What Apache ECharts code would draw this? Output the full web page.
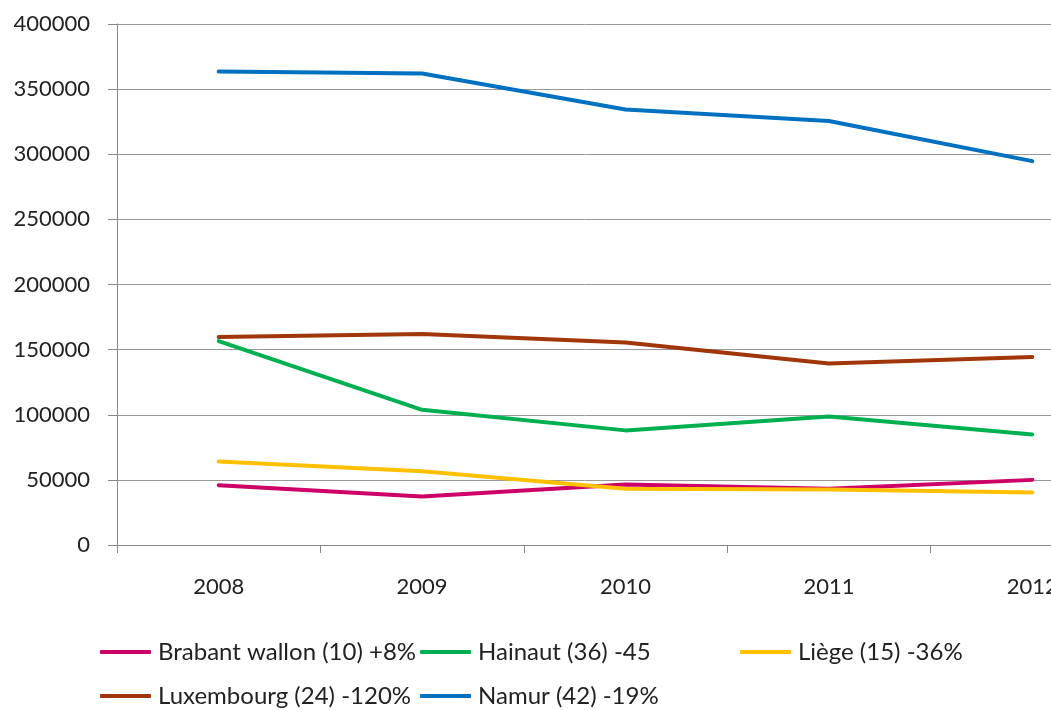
<!DOCTYPE html>
<html>
<head>
<meta charset="utf-8">
<script src="https://cdn.jsdelivr.net/npm/echarts@6/dist/echarts.min.js"></script>
<style>
html, body { margin: 0; padding: 0; background: #fff; }
#main { width: 1051px; height: 710px; }
</style>
</head>
<body>
<div id="main"></div>
<script>
// data
var years = ['2008', '2009', '2010', '2011', '2012'];
var brabant = [45900, 37200, 46400, 43100, 50000];
var hainaut = [156600, 103800, 88000, 98700, 84900];
var liege = [64100, 56700, 43100, 42600, 40300];
var luxembourg = [159700, 162000, 155500, 139300, 144300];
var namur = [363500, 362000, 334300, 325500, 294700];

var names = ['Brabant wallon (10) +8%', 'Hainaut (36) -45', 'Liège (15) -36%',
    'Luxembourg (24) -120%', 'Namur (42) -19%'];
var colors = ['#CC0066', '#00B050', '#FFC000', '#A0360A', '#0070C0'];
var values = [brabant, hainaut, liege, luxembourg, namur];

var fontName = 'Lato';
var myChart = echarts.init(document.getElementById('main'));

// one legend per item, placed like the original two-row layout
var legendPos = [[100, 640], [420, 640], [740, 640], [100, 684], [420, 684]];
var legends = [];
var series = [];
for (var i = 0; i < names.length; i++) {
    legends.push({
        data: [names[i]],
        left: legendPos[i][0],
        top: legendPos[i][1],
        padding: 0,
        itemWidth: 51,
        itemHeight: 4,
        icon: 'roundRect',
        selectedMode: false,
        textStyle: { fontFamily: fontName, fontSize: 24, color: '#222', padding: [0, 0, 0, 2] }
    });
    series.push({
        name: names[i],
        type: 'line',
        data: values[i],
        color: colors[i],
        symbol: 'none',
        lineStyle: { width: 4, color: colors[i], cap: 'round', join: 'round' }
    });
}

var option = {
    animation: false,
    legend: legends,
    // plot runs past the right edge, like the cropped original
    grid: { left: 117, top: 24, width: 1017, height: 521, outerBoundsMode: 'none', containLabel: false },
    xAxis: {
        type: 'category',
        data: years,
        boundaryGap: true,
        axisLine: { lineStyle: { color: '#888', width: 1 } },
        axisTick: { show: true, length: 8, lineStyle: { color: '#888' } },
        axisLabel: { margin: 31, fontFamily: fontName, fontSize: 22, color: '#222' },
        splitLine: { show: false }
    },
    yAxis: {
        type: 'value',
        min: 0,
        max: 400000,
        interval: 50000,
        axisLine: { show: true, lineStyle: { color: '#888', width: 1 } },
        axisTick: { show: true, length: 9, lineStyle: { color: '#888' } },
        axisLabel: {
            margin: 27, fontFamily: fontName, fontSize: 22, color: '#222',
            formatter: function (v) { return String(v); }
        },
        splitLine: { show: true, lineStyle: { color: '#999', width: 1 } }
    },
    series: series
};
myChart.setOption(option);
</script>
</body>
</html>
